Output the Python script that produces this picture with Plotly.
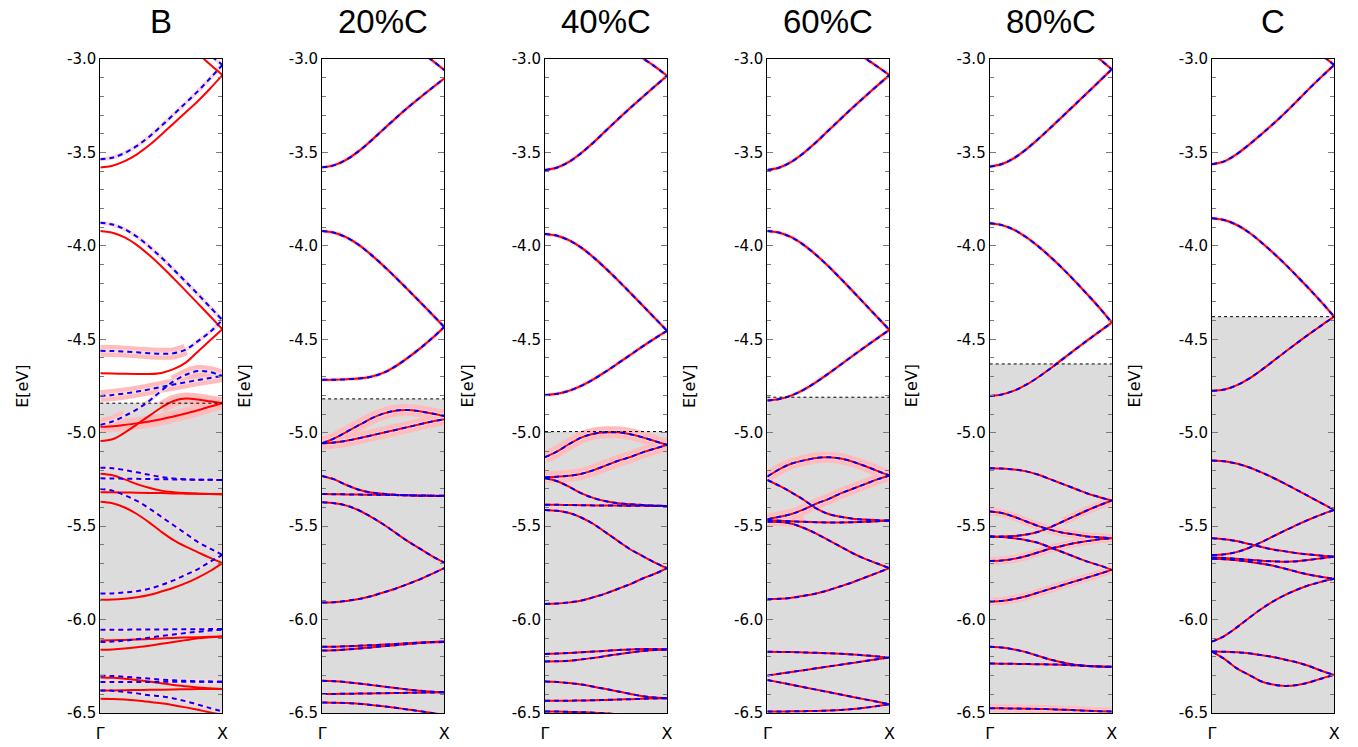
import plotly.graph_objects as go

# ---------------- data ----------------
TITLES = ["B", "20%C", "40%C", "60%C", "80%C", "C"]
K = [0.0, 0.1, 0.2, 0.3, 0.4, 0.5, 0.6, 0.7, 0.8, 0.9, 1.0]
X_TICK_LABELS = ["Γ", "X"]
Y_TICKS = [-6.5, -6.0, -5.5, -5.0, -4.5, -4.0, -3.5, -3.0]
Y_TICK_LABELS = ["-6.5", "-6.0", "-5.5", "-5.0", "-4.5", "-4.0", "-3.5", "-3.0"]
Y_LABEL = "E[eV]"
FERMI = [-4.842, -4.819, -4.994, -4.81, -4.632, -4.379]

# Panel "B": red (solid) and blue (dashed) bands differ
P1_RED = [
    [-3.58, -3.571, -3.547, -3.51, -3.462, -3.405, -3.345, -3.285, -3.225, -3.158, -3.086],
    [None, None, None, None, None, None, None, -2.915, -2.97, -3.03, -3.086],
    [-3.92, -3.93, -3.955, -3.996, -4.049, -4.109, -4.174, -4.241, -4.309, -4.377, -4.446],
    [-4.682, -4.683, -4.685, -4.686, -4.686, -4.68, -4.66, -4.625, -4.565, -4.505, -4.446],
    [-4.968, -4.965, -4.958, -4.95, -4.94, -4.928, -4.913, -4.897, -4.88, -4.86, -4.842],
    [-5.044, -5.035, -5.0, -4.955, -4.91, -4.865, -4.83, -4.817, -4.822, -4.832, -4.842],
    [-5.22, -5.228, -5.25, -5.275, -5.295, -5.31, -5.318, -5.323, -5.326, -5.328, -5.329],
    [-5.318, -5.319, -5.32, -5.321, -5.322, -5.323, -5.325, -5.326, -5.327, -5.328, -5.329],
    [-5.37, -5.378, -5.40, -5.435, -5.48, -5.53, -5.575, -5.61, -5.64, -5.67, -5.698],
    [-5.894, -5.893, -5.888, -5.88, -5.868, -5.85, -5.83, -5.805, -5.775, -5.74, -5.698],
    [-6.112, -6.111, -6.109, -6.107, -6.104, -6.101, -6.098, -6.096, -6.094, -6.092, -6.091],
    [-6.162, -6.16, -6.155, -6.148, -6.14, -6.13, -6.12, -6.11, -6.10, -6.095, -6.091],
    [-6.31, -6.312, -6.317, -6.324, -6.332, -6.341, -6.35, -6.357, -6.363, -6.368, -6.371],
    [-6.379, -6.379, -6.378, -6.377, -6.376, -6.375, -6.374, -6.373, -6.372, -6.372, -6.371],
    [-6.424, -6.425, -6.428, -6.433, -6.44, -6.448, -6.458, -6.47, -6.483, -6.497, -6.51],
]
P1_BLUE = [
    [-3.537, -3.528, -3.503, -3.465, -3.416, -3.358, -3.297, -3.235, -3.172, -3.103, -3.032],
    [None, None, None, None, None, None, None, None, -2.93, -2.98, -3.032],
    [-3.876, -3.886, -3.911, -3.951, -4.003, -4.062, -4.126, -4.192, -4.259, -4.328, -4.397],
    [-4.562, -4.563, -4.566, -4.57, -4.575, -4.578, -4.575, -4.555, -4.51, -4.46, -4.397],
    [-4.803, -4.798, -4.79, -4.78, -4.768, -4.755, -4.742, -4.73, -4.718, -4.707, -4.696],
    [-4.958, -4.94, -4.91, -4.875, -4.83, -4.775, -4.725, -4.69, -4.67, -4.676, -4.696],
    [-5.187, -5.19, -5.20, -5.212, -5.225, -5.237, -5.245, -5.249, -5.251, -5.252, -5.253],
    [-5.244, -5.245, -5.246, -5.247, -5.248, -5.249, -5.25, -5.251, -5.252, -5.252, -5.253],
    [-5.301, -5.31, -5.335, -5.365, -5.405, -5.45, -5.495, -5.54, -5.585, -5.62, -5.654],
    [-5.861, -5.86, -5.855, -5.848, -5.835, -5.815, -5.79, -5.76, -5.73, -5.69, -5.654],
    [-6.054, -6.054, -6.054, -6.053, -6.053, -6.053, -6.052, -6.052, -6.052, -6.051, -6.051],
    [-6.12, -6.118, -6.113, -6.105, -6.097, -6.088, -6.08, -6.072, -6.065, -6.059, -6.054],
    [-6.30, -6.302, -6.306, -6.311, -6.316, -6.321, -6.325, -6.328, -6.331, -6.332, -6.333],
    [-6.334, -6.334, -6.334, -6.334, -6.334, -6.333, -6.333, -6.333, -6.333, -6.333, -6.333],
    [-6.379, -6.381, -6.387, -6.395, -6.405, -6.41, -6.422, -6.437, -6.455, -6.474, -6.492],
]

# Panels 20%C ... C: red and blue bands coincide
P2_BANDS = [
    [-3.58, -3.568, -3.538, -3.493, -3.438, -3.378, -3.318, -3.261, -3.207, -3.155, -3.104],
    [None, None, None, None, None, None, None, -2.90, -2.955, -3.007, -3.059],
    [-3.92, -3.93, -3.955, -3.995, -4.047, -4.105, -4.168, -4.233, -4.299, -4.366, -4.434],
    [-4.717, -4.717, -4.714, -4.71, -4.70, -4.68, -4.645, -4.60, -4.55, -4.495, -4.434],
    [-5.056, -5.03, -4.995, -4.96, -4.925, -4.898, -4.882, -4.878, -4.885, -4.897, -4.91],
    [-5.056, -5.052, -5.043, -5.03, -5.015, -5.0, -4.985, -4.97, -4.955, -4.94, -4.928],
    [-5.231, -5.25, -5.28, -5.305, -5.32, -5.327, -5.332, -5.335, -5.337, -5.338, -5.338],
    [-5.328, -5.329, -5.33, -5.331, -5.332, -5.333, -5.334, -5.335, -5.336, -5.337, -5.338],
    [-5.372, -5.377, -5.39, -5.415, -5.45, -5.49, -5.535, -5.58, -5.62, -5.66, -5.695],
    [-5.909, -5.907, -5.90, -5.89, -5.875, -5.855, -5.835, -5.81, -5.785, -5.755, -5.725],
    [-6.146, -6.145, -6.143, -6.14, -6.137, -6.134, -6.131, -6.127, -6.123, -6.12, -6.118],
    [-6.166, -6.164, -6.16, -6.155, -6.149, -6.143, -6.137, -6.131, -6.126, -6.122, -6.12],
    [-6.328, -6.33, -6.335, -6.342, -6.35, -6.358, -6.366, -6.374, -6.381, -6.386, -6.389],
    [-6.398, -6.398, -6.397, -6.396, -6.395, -6.394, -6.393, -6.392, -6.391, -6.39, -6.389],
    [-6.444, -6.445, -6.447, -6.451, -6.457, -6.464, -6.472, -6.481, -6.49, -6.50, -6.51],
]
P3_BANDS = [
    [-3.594, -3.581, -3.549, -3.502, -3.445, -3.383, -3.321, -3.261, -3.203, -3.146, -3.09],
    [None, None, None, None, None, None, None, -2.945, -2.995, -3.04, -3.09],
    [-3.936, -3.946, -3.971, -4.011, -4.063, -4.122, -4.186, -4.252, -4.319, -4.387, -4.455],
    [-4.798, -4.792, -4.775, -4.748, -4.713, -4.672, -4.628, -4.583, -4.538, -4.495, -4.455],
    [-5.131, -5.10, -5.06, -5.025, -5.005, -4.998, -4.998, -5.008, -5.025, -5.045, -5.065],
    [-5.238, -5.235, -5.23, -5.22, -5.20, -5.175, -5.15, -5.13, -5.105, -5.085, -5.065],
    [-5.244, -5.26, -5.29, -5.325, -5.35, -5.367, -5.377, -5.383, -5.387, -5.39, -5.392],
    [-5.386, -5.386, -5.387, -5.388, -5.389, -5.39, -5.39, -5.391, -5.391, -5.392, -5.392],
    [-5.413, -5.418, -5.43, -5.455, -5.49, -5.535, -5.58, -5.625, -5.66, -5.695, -5.725],
    [-5.916, -5.914, -5.908, -5.898, -5.88, -5.86, -5.835, -5.81, -5.78, -5.755, -5.725],
    [-6.184, -6.182, -6.179, -6.175, -6.171, -6.167, -6.163, -6.16, -6.158, -6.158, -6.16],
    [-6.224, -6.223, -6.22, -6.213, -6.205, -6.195, -6.185, -6.176, -6.168, -6.163, -6.16],
    [-6.332, -6.334, -6.34, -6.348, -6.36, -6.372, -6.385, -6.398, -6.41, -6.417, -6.421],
    [-6.435, -6.435, -6.434, -6.433, -6.432, -6.43, -6.428, -6.426, -6.424, -6.422, -6.421],
    [-6.492, -6.492, -6.494, -6.496, -6.498, -6.502, -6.507, -6.513, -6.52, -6.528, -6.536],
]
P4_BANDS = [
    [-3.594, -3.581, -3.549, -3.502, -3.445, -3.383, -3.321, -3.26, -3.201, -3.143, -3.086],
    [None, None, None, None, None, None, None, -2.945, -2.995, -3.04, -3.086],
    [-3.92, -3.93, -3.955, -3.996, -4.049, -4.109, -4.175, -4.243, -4.312, -4.381, -4.45],
    [-4.828, -4.82, -4.80, -4.769, -4.729, -4.684, -4.636, -4.588, -4.541, -4.495, -4.45],
    [-5.235, -5.195, -5.165, -5.148, -5.135, -5.131, -5.138, -5.155, -5.178, -5.204, -5.229],
    [-5.253, -5.285, -5.32, -5.36, -5.405, -5.435, -5.45, -5.46, -5.465, -5.468, -5.47],
    [-5.463, -5.45, -5.435, -5.41, -5.38, -5.355, -5.325, -5.30, -5.275, -5.25, -5.229],
    [-5.468, -5.471, -5.474, -5.477, -5.479, -5.48, -5.48, -5.479, -5.477, -5.474, -5.47],
    [-5.476, -5.478, -5.487, -5.51, -5.54, -5.575, -5.61, -5.645, -5.675, -5.70, -5.725],
    [-5.891, -5.889, -5.883, -5.873, -5.86, -5.843, -5.822, -5.80, -5.775, -5.75, -5.725],
    [-6.172, -6.173, -6.174, -6.176, -6.178, -6.18, -6.183, -6.187, -6.192, -6.197, -6.203],
    [-6.30, -6.29, -6.28, -6.271, -6.261, -6.251, -6.242, -6.232, -6.222, -6.212, -6.203],
    [-6.323, -6.336, -6.349, -6.362, -6.375, -6.388, -6.401, -6.414, -6.427, -6.44, -6.453],
    [-6.492, -6.492, -6.491, -6.49, -6.489, -6.487, -6.484, -6.479, -6.472, -6.463, -6.453],
]
P5_BANDS = [
    [-3.576, -3.562, -3.530, -3.483, -3.427, -3.367, -3.305, -3.243, -3.181, -3.118, -3.055],
    [None, None, None, None, None, None, None, -2.89, -2.945, -3.0, -3.055],
    [-3.879, -3.889, -3.914, -3.954, -4.004, -4.061, -4.123, -4.19, -4.26, -4.332, -4.411],
    [-4.803, -4.795, -4.775, -4.743, -4.702, -4.655, -4.605, -4.555, -4.506, -4.458, -4.411],
    [-5.19, -5.192, -5.197, -5.207, -5.225, -5.25, -5.275, -5.30, -5.325, -5.345, -5.363],
    [-5.422, -5.43, -5.45, -5.475, -5.50, -5.52, -5.535, -5.545, -5.555, -5.56, -5.565],
    [-5.556, -5.556, -5.553, -5.545, -5.53, -5.505, -5.475, -5.445, -5.415, -5.388, -5.363],
    [-5.556, -5.558, -5.565, -5.575, -5.59, -5.615, -5.64, -5.665, -5.69, -5.71, -5.734],
    [-5.686, -5.684, -5.675, -5.66, -5.64, -5.62, -5.605, -5.59, -5.58, -5.57, -5.565],
    [-5.903, -5.90, -5.89, -5.875, -5.855, -5.835, -5.815, -5.795, -5.775, -5.755, -5.734],
    [-6.146, -6.15, -6.16, -6.175, -6.195, -6.215, -6.23, -6.242, -6.248, -6.251, -6.253],
    [-6.235, -6.236, -6.237, -6.238, -6.239, -6.24, -6.242, -6.245, -6.248, -6.251, -6.253],
    [-6.475, -6.475, -6.476, -6.477, -6.478, -6.48, -6.482, -6.485, -6.488, -6.49, -6.492],
]
P6_BANDS = [
    [-3.563, -3.548, -3.51, -3.46, -3.405, -3.348, -3.287, -3.222, -3.156, -3.093, -3.032],
    [None, None, None, None, None, None, None, None, -2.926, -2.979, -3.032],
    [-3.852, -3.862, -3.887, -3.927, -3.979, -4.037, -4.099, -4.165, -4.233, -4.304, -4.379],
    [-4.776, -4.769, -4.747, -4.712, -4.667, -4.617, -4.567, -4.518, -4.47, -4.424, -4.379],
    [-5.149, -5.153, -5.165, -5.185, -5.211, -5.241, -5.274, -5.308, -5.343, -5.378, -5.413],
    [-5.655, -5.651, -5.639, -5.617, -5.587, -5.555, -5.523, -5.492, -5.463, -5.437, -5.413],
    [-5.565, -5.57, -5.58, -5.595, -5.61, -5.625, -5.635, -5.645, -5.652, -5.658, -5.663],
    [-5.668, -5.67, -5.675, -5.68, -5.685, -5.688, -5.69, -5.688, -5.68, -5.672, -5.663],
    [-5.675, -5.677, -5.682, -5.69, -5.70, -5.712, -5.728, -5.745, -5.76, -5.772, -5.782],
    [-6.118, -6.088, -6.043, -5.993, -5.945, -5.903, -5.868, -5.839, -5.815, -5.797, -5.782],
    [-6.171, -6.172, -6.175, -6.18, -6.19, -6.20, -6.215, -6.23, -6.25, -6.275, -6.296],
    [-6.171, -6.21, -6.26, -6.295, -6.33, -6.348, -6.355, -6.35, -6.335, -6.315, -6.296],
]

# weighted (fat-band) portions: (panel, set, band index, k from, k to)
HIGHLIGHTS = [
    (0, "blue", 3, 0.0, 0.7), (0, "blue", 4, 0.0, 1.0), (0, "blue", 5, 0.0, 0.2),
    (0, "blue", 5, 0.6, 1.0), (0, "red", 4, 0.0, 1.0), (0, "red", 5, 0.5, 1.0),
    (1, "red", 4, 0.0, 1.0), (1, "red", 5, 0.0, 1.0),
    (2, "red", 4, 0.0, 1.0), (2, "red", 5, 0.0, 1.0),
    (3, "red", 4, 0.0, 1.0), (3, "red", 6, 0.0, 1.0), (3, "red", 7, 0.0, 0.3),
    (4, "red", 5, 0.0, 1.0), (4, "red", 6, 0.6, 1.0), (4, "red", 8, 0.0, 1.0),
    (4, "red", 9, 0.0, 1.0), (4, "red", 12, 0.0, 1.0),
]

RED_SETS = [P1_RED, P2_BANDS, P3_BANDS, P4_BANDS, P5_BANDS, P6_BANDS]
BLUE_SETS = [P1_BLUE, P2_BANDS, P3_BANDS, P4_BANDS, P5_BANDS, P6_BANDS]

# ---------------- layout / styling ----------------
W, H = 1358, 747
LEFTS = [97, 320.5, 545, 769, 993, 1217]
PW = 123
M_TOP, M_BOT = 59, 34
PLOT_H = H - M_TOP - M_BOT

RED = "#ff0000"
BLUE = "#0000ff"
PINK_HI = "#ffbcbc"
PINK_LO = "#ffd6d6"
FILL = "#dcdcdc"
HI_WIDTH = [12, 12, 12, 11, 8, 6]

fig = go.Figure()


def axn(i):
    return "" if i == 0 else str(i + 1)


for i in range(6):
    xa, ya = "x" + axn(i), "y" + axn(i)
    reds, blues = RED_SETS[i], BLUE_SETS[i]
    for (p, s, b, k0, k1) in HIGHLIGHTS:
        if p != i:
            continue
        src = reds if s == "red" else blues
        kk = [k for k, e in zip(K, src[b]) if k0 - 1e-9 <= k <= k1 + 1e-9]
        ee = [e for k, e in zip(K, src[b]) if k0 - 1e-9 <= k <= k1 + 1e-9]
        fig.add_trace(go.Scatter(x=kk, y=ee, mode="lines", xaxis=xa, yaxis=ya,
                                 line=dict(color=PINK_HI, width=HI_WIDTH[i], shape="spline", smoothing=1.0),
                                 hoverinfo="skip", showlegend=False))
    for band in blues:
        fig.add_trace(go.Scatter(x=K, y=band, mode="lines", xaxis=xa, yaxis=ya,
                                 line=dict(color=PINK_LO, width=4, shape="spline", smoothing=1.0),
                                 hoverinfo="skip", showlegend=False))
    for band in reds:
        fig.add_trace(go.Scatter(x=K, y=band, mode="lines", xaxis=xa, yaxis=ya,
                                 line=dict(color=RED, width=2, shape="spline", smoothing=1.0),
                                 hoverinfo="skip", showlegend=False))
    for band in blues:
        fig.add_trace(go.Scatter(x=K, y=band, mode="lines", xaxis=xa, yaxis=ya,
                                 line=dict(color=BLUE, width=2, dash="5px,4px", shape="spline", smoothing=1.0),
                                 hoverinfo="skip", showlegend=False))

layout = dict(width=W, height=H, margin=dict(l=0, r=0, t=M_TOP, b=M_BOT, pad=0),
              paper_bgcolor="white", plot_bgcolor="white", showlegend=False,
              shapes=[], annotations=[])

for i in range(6):
    n = axn(i)
    layout["xaxis" + n] = dict(
        domain=[LEFTS[i] / W, (LEFTS[i] + PW) / W], range=[0, 1], anchor="y" + n,
        tickmode="array", tickvals=[0, 1], ticktext=X_TICK_LABELS,
        ticks="", showline=True, linecolor="black", linewidth=1, mirror=True,
        showgrid=False, zeroline=False, fixedrange=True, ticklabelstandoff=6,
        tickfont=dict(family="DejaVu Sans", size=16, color="black"))
    layout["yaxis" + n] = dict(
        domain=[0, 1], range=[-6.5, -3.0], anchor="x" + n,
        tickmode="array", tickvals=Y_TICKS, ticktext=Y_TICK_LABELS,
        ticks="inside", ticklen=6, tickwidth=1, tickcolor="#7a7a7a",
        minor=dict(tickmode="linear", tick0=-6.5, dtick=0.1, ticks="inside",
                   ticklen=4, tickwidth=1, tickcolor="#7a7a7a", showgrid=False),
        showline=True, linecolor="black", linewidth=1, mirror="allticks",
        showgrid=False, zeroline=False, fixedrange=True,
        tickfont=dict(family="DejaVu Sans", size=15, color="black"))
    xref_dom = "x" + n + " domain"
    layout["shapes"].append(dict(type="rect", xref=xref_dom, yref="y" + n, x0=0, x1=1,
                                 y0=-6.5, y1=FERMI[i], fillcolor=FILL, line=dict(width=0), layer="below"))
    layout["shapes"].append(dict(type="line", xref=xref_dom, yref="y" + n, x0=0, x1=1,
                                 y0=FERMI[i], y1=FERMI[i], line=dict(color="black", width=1, dash="dot")))
    layout["annotations"].append(dict(text=TITLES[i], xref="paper", yref="paper",
                                      x=(LEFTS[i] + PW / 2) / W, y=1 + (M_TOP - 22) / PLOT_H,
                                      xanchor="center", yanchor="middle", showarrow=False,
                                      font=dict(family="Liberation Sans", size=33, color="black")))
    layout["annotations"].append(dict(text=Y_LABEL, xref="paper", yref="paper",
                                      x=(LEFTS[i] - 79) / W, y=0.5, textangle=-90,
                                      xanchor="center", yanchor="middle", showarrow=False,
                                      font=dict(family="DejaVu Sans", size=16, color="black")))

fig.update_layout(**layout)
fig.write_html("out.html", config={"displayModeBar": False},
               post_script="document.body.style.margin='0px';")
